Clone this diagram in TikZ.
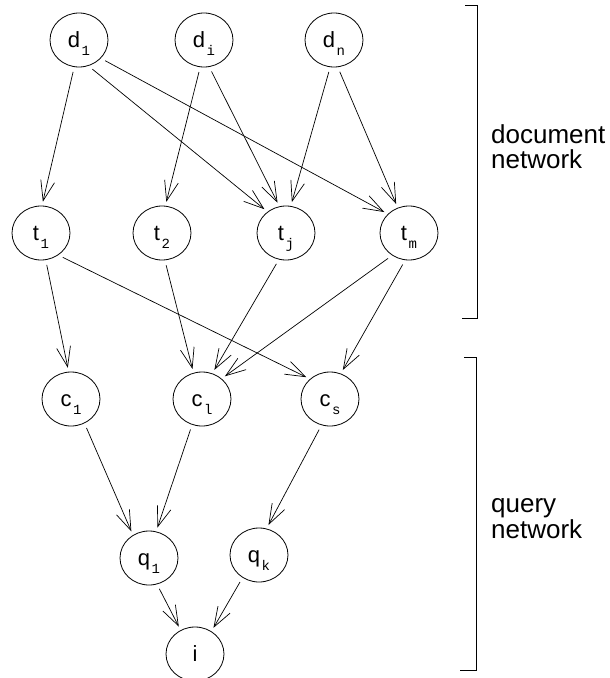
\documentclass[tikz,border=0pt]{standalone}
\usepackage{fontspec}
\setmainfont{Liberation Sans}
\setmonofont{Liberation Mono}
\usetikzlibrary{arrows.meta,shapes.geometric}

\tikzset{
  var/.style={draw, line width=0.8pt, ellipse, minimum width=58pt, minimum height=54pt,
    inner sep=0pt, text height=15pt, text depth=0pt, font=\fontsize{22}{26}\selectfont},
  link/.style={-{Straight Barb[length=20pt,width=14pt]}, line width=0.7pt,
    shorten <=5pt, shorten >=4pt},
  lab/.style={anchor=base west, inner sep=0pt, font=\fontsize{26}{30}\selectfont},
  brace/.style={line width=0.8pt}
}
\newcommand\idx[1]{\hspace{1.5pt}\raisebox{-8pt}[0pt][0pt]{\ttfamily\fontsize{14}{14}\selectfont #1}}

\begin{document}
\begin{tikzpicture}[x=1pt, y=-1pt]
            \useasboundingbox (0,0) rectangle (610,678);

            % Document nodes
            \node[var] (d1) at (79,40) {d\idx{1}};
            \node[var] (di) at (204,40) {d\idx{i}};
            \node[var] (dn) at (334,40) {d\idx{n}};

            % Term nodes
            \node[var] (t1) at (41,233) {t\idx{1}};
            \node[var] (t2) at (162,233) {t\idx{2}};
            \node[var] (tj) at (286,233) {t\idx{j}};
            \node[var] (tm) at (409,233) {t\idx{m}};

            % Concept nodes
            \node[var] (c1) at (71,399) {c\idx{1}};
            \node[var] (cl) at (202,399) {c\idx{l}};
            \node[var] (cs) at (330,399) {c\idx{s}};

            % Query nodes
            \node[var] (q1) at (149,558) {q\idx{1}};
            \node[var] (qk) at (259,555) {q\idx{k}};
            \node[var] (i) at (195,654) {i};

            % Documents to terms
            \draw[link] (d1.-100) -- (t1.88);
            \draw[link] (d1.-70) -- (tj.131);
            \draw[link] (d1.-40) -- (tm.138);
            \draw[link] (di.-98) -- (t2.83);
            \draw[link] (di.-79) -- (tj.104);
            \draw[link] (dn.-98) -- (tj.80);
            \draw[link] (dn.-82) -- (tm.114);

            % Terms to concepts
            \draw[link] (t1.-80) -- (c1.95);
            \draw[link] (t1.-52) -- (cs.135);
            \draw[link] (t2.-84) -- (cl.108);
            \draw[link] (tj.-105) -- (cl.68);
            \draw[link] (tm.-127) -- (cl.46);
            \draw[link] (tm.-98) -- (cs.67);

            % Concepts to queries
            \draw[link] (c1.-61) -- (q1.125);
            \draw[link] (cl.-111) -- (q1.75);
            \draw[link] (cs.-108) -- (qk.74);
            \draw[link] (q1.-73) -- (i.121);
            \draw[link] (qk.-126) -- (i.54);

            % Brackets with labels
            \draw[brace] (465,5) -- (477,5) -- (477,318) -- (462,318);
            \draw[brace] (464,357) -- (476,357) -- (476,670) -- (460,670);
            \node[lab] (doc) at (491,143) {document};
            \node[lab] (docnet) at (491,168) {network};
            \node[lab] (qry) at (491,512) {query};
            \node[lab] (qrynet) at (491,538) {network};
\end{tikzpicture}
\end{document}
